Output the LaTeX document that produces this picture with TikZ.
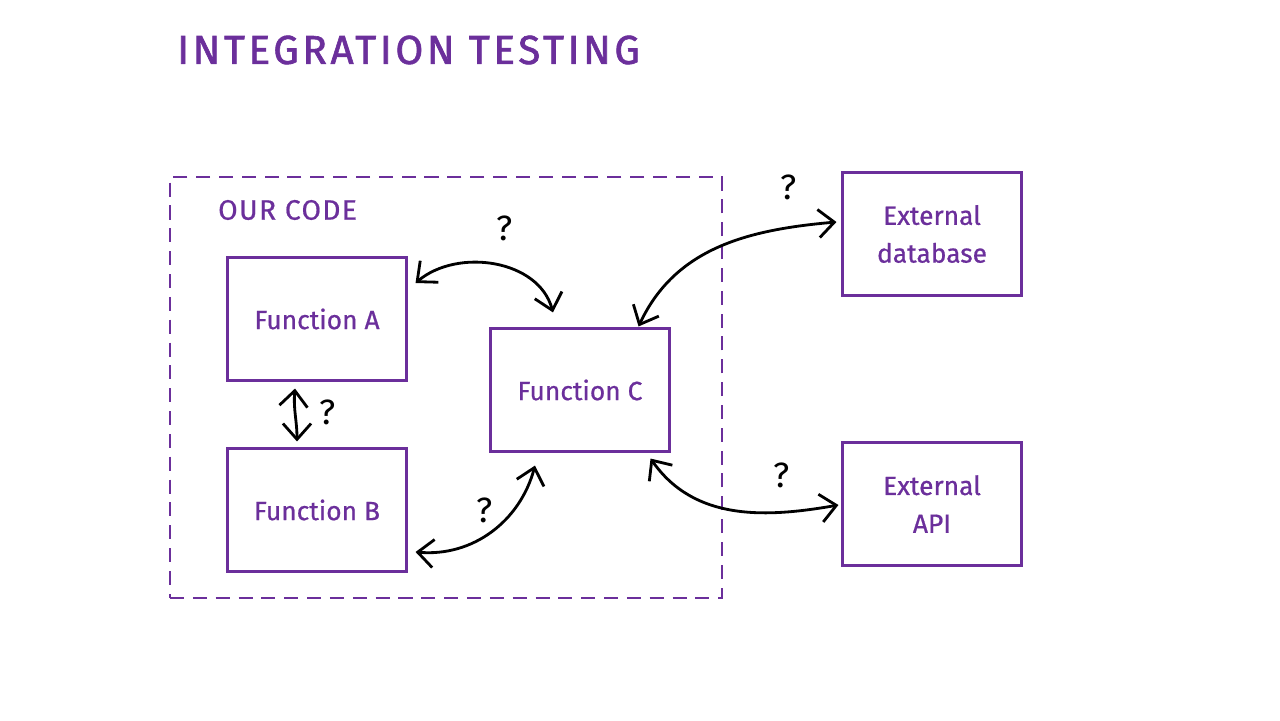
\documentclass[tikz,border=0pt]{standalone}
\usepackage{fontspec}
\setmainfont{Fira Sans}
\newfontfamily\plumfont[FakeBold=0.7]{Fira Sans}
\newfontfamily\headfont[FakeBold=1.6]{Fira Sans}
\usetikzlibrary{arrows.meta,calc}
\definecolor{plum}{RGB}{107,47,155}

\begin{document}
\begin{tikzpicture}[x=0.02cm, y=0.02cm,
  fbox/.style={draw=plum, line width=1.2pt, minimum width=3.58cm, minimum height=2.46cm,
    align=center, text=plum, font=\plumfont\fontsize{15}{21.5}\selectfont},
  link/.style={{Straight Barb[length=9pt,width=16pt]}-{Straight Barb[length=9pt,width=16pt]},
    line width=1.6pt, black},
  qmark/.style={font=\fontsize{20}{20}\selectfont}]
\useasboundingbox (0,0) rectangle (1280,720);
% title and the frame round our code
\node[anchor=west, text=plum, font=\headfont\fontsize{23}{23}\selectfont\addfontfeature{LetterSpace=9}] (title) at (171,670) {INTEGRATION TESTING};
\node[draw=plum, line width=1.3pt, dash pattern=on 8pt off 5pt, minimum width=11.04cm, minimum height=8.42cm] (code) at (446,332.5) {};
\node[anchor=west, text=plum, font=\plumfont\fontsize{16}{16}\selectfont\addfontfeature{LetterSpace=5}] (ourcode) at (212,510) {OUR CODE};
% functions
\node[fbox] (A) at (317,401) {Function A};
\node[fbox] (B) at (317,210) {Function B};
\node[fbox] (C) at (580,330) {Function C};
% outside world
\node[fbox] (DB) at (932,486) {External\\database};
\node[fbox] (API) at (932,216) {External\\API};
% links
\draw[link] ($(A.east)+(8,36)$) to[out=40, in=105] ($(C.north)+(-27,15)$);
\draw[link] ($(A.south)+(-22,-7)$) to[out=-95, in=90] ($(B.north)+(-20,6)$);
\draw[link] ($(B.east)+(8,-42)$) to[out=-5, in=-105] ($(C.south)+(-45,-13)$);
\draw[link] ($(C.north east)+(-32,1)$) to[out=65, in=185] ($(DB.west)+(-5,12)$);
\draw[link] ($(C.south east)+(-20,-6)$) to[out=-55, in=190] ($(API.west)+(-3,-1)$);
% question marks
\node[qmark] (q1) at (505,492) {?};
\node[qmark] (q2) at (328,308) {?};
\node[qmark] (q3) at (485,210) {?};
\node[qmark] (q4) at (789,533) {?};
\node[qmark] (q5) at (782,245) {?};
\end{tikzpicture}
\end{document}
